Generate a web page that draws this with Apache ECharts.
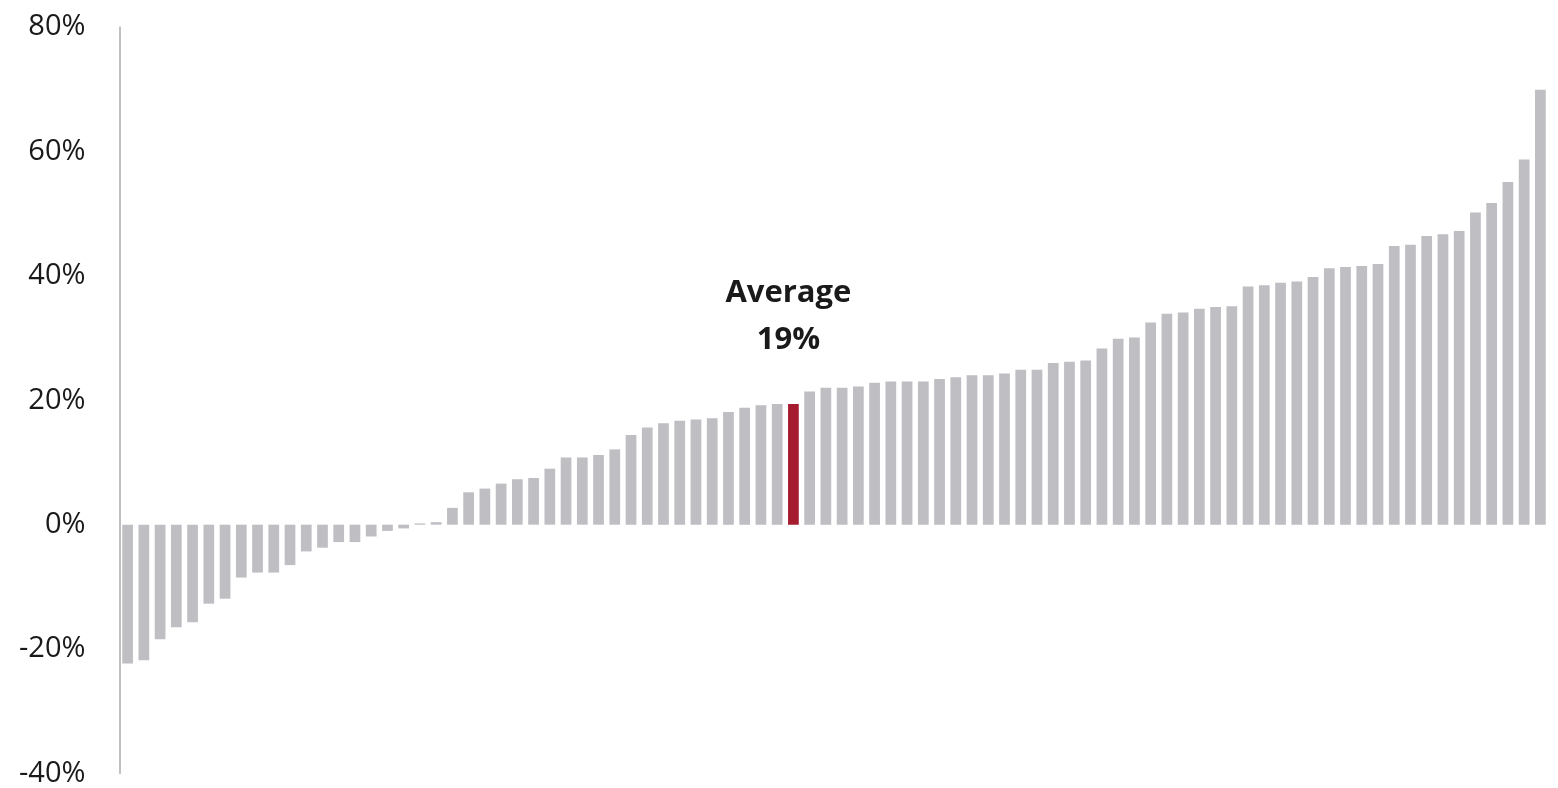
<!DOCTYPE html>
<html>
<head>
<meta charset="utf-8">
<script src="https://cdn.jsdelivr.net/npm/echarts@6/dist/echarts.min.js"></script>
<style>
    html, body { margin: 0; padding: 0; background: #fff; }
    #chartBar { width: 1558px; height: 788px; }
</style>
</head>
<body>
<div id="chartBar"></div>
<script>
    // sorted changes, one bar per item
    var values = [
        -22.3, -21.8, -18.4, -16.5, -15.7, -12.7, -11.9, -8.5, -7.7, -7.7,
        -6.5, -4.3, -3.7, -2.8, -2.8, -1.9, -1.0, -0.6, 0.2, 0.4,
        2.7, 5.2, 5.8, 6.6, 7.3, 7.5, 9.0, 10.8, 10.8, 11.2,
        12.1, 14.4, 15.6, 16.3, 16.7, 16.9, 17.1, 18.1, 18.8, 19.2,
        19.4, 19.4, 21.4, 22.0, 22.0, 22.2, 22.8, 23.0, 23.0, 23.0,
        23.4, 23.7, 24.0, 24.0, 24.3, 24.9, 24.9, 26.0, 26.2, 26.4,
        28.3, 29.9, 30.1, 32.5, 33.9, 34.1, 34.7, 35.0, 35.1, 38.3,
        38.5, 38.9, 39.1, 39.8, 41.2, 41.4, 41.6, 41.9, 44.8, 45.0,
        46.4, 46.7, 47.2, 50.2, 51.7, 55.1, 58.7, 69.9
    ];
    var categories = values.map(function (v, i) { return String(i + 1); });
    var averageIndex = 41;
    var averageLabel = ['Average', '19%'];
    var yMin = -40, yMax = 80, yStep = 20;

    var chartBar = echarts.init(document.getElementById('chartBar'));

    var barData = values.map(function (v, i) {
        if (i !== averageIndex) return v;
        return {
            value: v,
            itemStyle: { color: '#A51C30' },
            label: {
                show: true,
                position: 'top',
                distance: 40,
                offset: [-5, 0],
                formatter: averageLabel.join('\n'),
                fontFamily: 'Open Sans',
                fontWeight: 'bold',
                fontSize: 31,
                lineHeight: 47,
                color: '#1a1a1a'
            }
        };
    });

    chartBar.setOption({
        animation: false,
        grid: {
            left: 119.5,
            right: 9.5,
            top: 27,
            bottom: 11,
            containLabel: false
        },
        xAxis: {
            type: 'category',
            data: categories,
            axisLine: { show: false },
            axisTick: { show: false },
            axisLabel: { show: false },
            splitLine: { show: false }
        },
        yAxis: {
            type: 'value',
            min: yMin,
            max: yMax,
            interval: yStep,
            axisLine: { show: true, lineStyle: { color: '#ababab', width: 1.5 } },
            axisTick: { show: false },
            splitLine: { show: false },
            axisLabel: {
                formatter: '{value}%',
                margin: 34,
                fontFamily: 'Open Sans',
                fontSize: 29,
                color: '#1a1a1a'
            }
        },
        series: [{
            type: 'bar',
            data: barData,
            barCategoryGap: '34%',
            itemStyle: { color: '#BEBEC3' }
        }]
    });
</script>
</body>
</html>
